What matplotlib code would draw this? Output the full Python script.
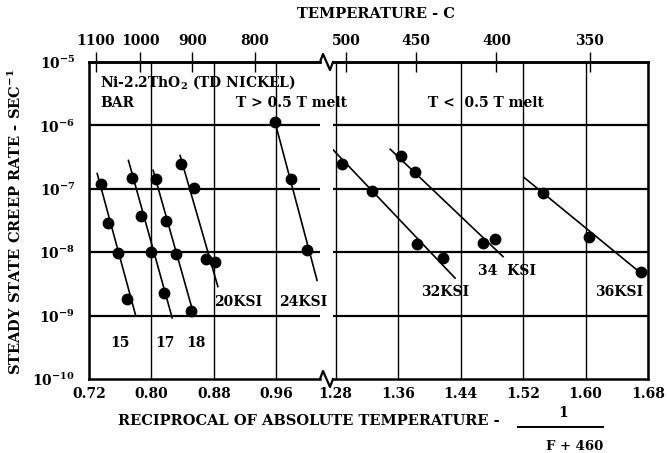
import matplotlib
matplotlib.use("Agg")
import matplotlib.pyplot as plt
from matplotlib.lines import Line2D

plt.rcParams['font.family'] = ['DejaVu Serif']
plt.rcParams['font.weight'] = 'bold'
plt.rcParams['mathtext.fontset'] = 'dejavuserif'
plt.rcParams['mathtext.default'] = 'bf'

# creep data, x = 1000/T, rate in 1/sec
ksi15_x = [0.735, 0.744, 0.757, 0.769]
ksi15_rate = [1.2e-7, 2.9e-8, 9.8e-9, 1.8e-9]
ksi15_fit_x = [0.7305, 0.780]
ksi15_fit_rate = [1.74e-7, 9.8e-10]

ksi17_x = [0.775, 0.786, 0.799, 0.816]
ksi17_rate = [1.5e-7, 3.7e-8, 1.0e-8, 2.26e-9]
ksi17_fit_x = [0.7705, 0.8265]
ksi17_fit_rate = [2.8e-7, 9.2e-10]

ksi18_x = [0.806, 0.819, 0.832, 0.851]
ksi18_rate = [1.42e-7, 3.05e-8, 9.3e-9, 1.2e-9]
ksi18_fit_x = [0.8021, 0.8547]
ksi18_fit_rate = [1.96e-7, 9.8e-10]

ksi20_x = [0.838, 0.855, 0.870, 0.881]
ksi20_rate = [2.43e-7, 1.02e-7, 7.7e-9, 7.1e-9]
ksi20_fit_x = [0.8366, 0.885]
ksi20_fit_rate = [3.36e-7, 2.87e-9]

ksi24_x = [0.958, 0.979, 0.999]
ksi24_rate = [1.15e-6, 1.42e-7, 1.07e-8]
ksi24_fit_x = [0.958, 1.012]
ksi24_fit_rate = [1.15e-6, 3.6e-9]

ksi32_x = [1.288, 1.326, 1.384, 1.418]
ksi32_rate = [2.45e-7, 9.4e-8, 1.37e-8, 8.0e-9]
ksi32_fit_x = [1.277, 1.433]
ksi32_fit_rate = [4.1e-7, 3.9e-9]

ksi34_x = [1.364, 1.382, 1.469, 1.484]
ksi34_rate = [3.24e-7, 1.86e-7, 1.42e-8, 1.61e-8]
ksi34_fit_x = [1.350, 1.4945]
ksi34_fit_rate = [4.2e-7, 8.5e-9]

ksi36_x = [1.545, 1.604, 1.6705]
ksi36_rate = [8.5e-8, 1.75e-8, 4.8e-9]
ksi36_fit_x = [1.521, 1.6735]
ksi36_fit_rate = [1.52e-7, 4.4e-9]

left_series = [(ksi15_x, ksi15_rate, ksi15_fit_x, ksi15_fit_rate),
               (ksi17_x, ksi17_rate, ksi17_fit_x, ksi17_fit_rate),
               (ksi18_x, ksi18_rate, ksi18_fit_x, ksi18_fit_rate),
               (ksi20_x, ksi20_rate, ksi20_fit_x, ksi20_fit_rate),
               (ksi24_x, ksi24_rate, ksi24_fit_x, ksi24_fit_rate)]
right_series = [(ksi32_x, ksi32_rate, ksi32_fit_x, ksi32_fit_rate),
                (ksi34_x, ksi34_rate, ksi34_fit_x, ksi34_fit_rate),
                (ksi36_x, ksi36_rate, ksi36_fit_x, ksi36_fit_rate)]

left_ticks = [0.72, 0.80, 0.88, 0.96]
right_ticks = [1.28, 1.36, 1.44, 1.52, 1.60, 1.68]
left_temps_c = [1100, 1000, 900, 800]
right_temps_c = [500, 450, 400, 350]
rate_ticks = [1e-10, 1e-9, 1e-8, 1e-7, 1e-6, 1e-5]
rate_labels = [r'$10^{-10}$', r'$10^{-9}$', r'$10^{-8}$', r'$10^{-7}$', r'$10^{-6}$', r'$10^{-5}$']

W, H = 668, 453
fig = plt.figure(figsize=(W / 100, H / 100), dpi=100)

def px_box(x0, x1, ytop, ybot):
    return [x0 / W, 1 - ybot / H, (x1 - x0) / W, (ybot - ytop) / H]

top_px, bot_px = 62, 379
axL = fig.add_axes(px_box(89, 320, top_px, bot_px))
axR = fig.add_axes(px_box(333, 648, top_px, bot_px), sharey=axL)
axL.set_xlim(0.72, 0.72 + (320 - 89) / 781.0)
axR.set_xlim(1.68 - (648 - 333) / 781.0, 1.68)

def k2c(x):
    return 1000.0 / x - 273.0

def c2k(t):
    return 1000.0 / (t + 273.0)

for ax, ticks, temps, series in [(axL, left_ticks, left_temps_c, left_series),
                                  (axR, right_ticks, right_temps_c, right_series)]:
    ax.patch.set_visible(False)
    ax.set_yscale('log')
    ax.set_ylim(1e-10, 1e-5)
    ax.set_xticks(ticks)
    ax.set_xticklabels(['%.2f' % t for t in ticks], fontsize=10)
    ax.tick_params(axis='x', length=0, pad=6)
    ax.yaxis.set_minor_locator(matplotlib.ticker.NullLocator())
    for t in ticks:
        ax.axvline(t, color='black', lw=1.0, zorder=1)
    for r in rate_ticks[1:-1]:
        ax.axhline(r, color='black', lw=1.6, zorder=1)
    for sp in ax.spines.values():
        sp.set_linewidth(1.8)
    for px, rate, fx, frate in series:
        ax.plot(fx, frate, color='black', lw=1.2, zorder=2)
        ax.plot(px, rate, 'o', color='black', ms=7.5, zorder=3)
    sec = ax.secondary_xaxis('top', functions=(k2c, c2k))
    sec.set_xticks(temps)
    sec.set_xticklabels([str(t) for t in temps], fontsize=10)
    sec.tick_params(direction='inout', length=14, width=1.0, pad=3)
    sec.spines['top'].set_linewidth(1.8)

axL.spines['right'].set_visible(False)
axR.spines['left'].set_visible(False)
axL.set_yticks(rate_ticks)
axL.set_yticklabels(rate_labels, fontsize=10)
axL.tick_params(axis='y', length=0, pad=10)
axR.tick_params(axis='y', left=False, labelleft=False, length=0)

# break marks on top and bottom
for y in (top_px, bot_px):
    zx = [320, 323, 330, 333]
    zy = [y, y - 8, y + 8, y]
    fig.add_artist(Line2D([v / W for v in zx], [1 - v / H for v in zy],
                          color='black', lw=1.6, transform=fig.transFigure))

# labels on the fitted lines
axL.text(0.760, 3.7e-10, '15', ha='center', va='center', fontsize=10)
axL.text(0.817, 3.7e-10, '17', ha='center', va='center', fontsize=10)
axL.text(0.857, 3.7e-10, '18', ha='center', va='center', fontsize=10)
axL.text(0.911, 1.64e-9, '20KSI', ha='center', va='center', fontsize=10)
axL.text(0.994, 1.64e-9, '24KSI', ha='center', va='center', fontsize=10)
axR.text(1.420, 2.35e-9, '32KSI', ha='center', va='center', fontsize=10)
axR.text(1.500, 5.06e-9, '34  KSI', ha='center', va='center', fontsize=10)
axR.text(1.643, 2.35e-9, '36KSI', ha='center', va='center', fontsize=10)

axL.text(0.047, 0.937, r'Ni-2.2ThO$_2$ (TD NICKEL)', transform=axL.transAxes,
         fontsize=10, va='center', clip_on=False)
axL.text(0.047, 0.872, 'BAR', transform=axL.transAxes, fontsize=10, va='center')
axL.text(0.635, 0.872, 'T > 0.5 T melt', transform=axL.transAxes, fontsize=10,
         va='center', clip_on=False, zorder=5)
axR.text(0.30, 0.872, 'T <  0.5 T melt', transform=axR.transAxes, fontsize=10,
         va='center')

fig.text(15 / W, 1 - 222 / H, r'STEADY STATE CREEP RATE - SEC$^{-1}$', rotation=90,
         ha='center', va='center', fontsize=10.5)
fig.text(376 / W, 1 - 14 / H, 'TEMPERATURE - C', ha='center', va='center', fontsize=10.5)

# x label with the 1/(F+460) fraction
fig.text(118 / W, 1 - 421 / H, 'RECIPROCAL OF ABSOLUTE TEMPERATURE -', ha='left',
         va='center', fontsize=10.5)
fig.add_artist(Line2D([518 / W, 603 / W], [1 - 427 / H, 1 - 427 / H], color='black',
                      lw=1.4, transform=fig.transFigure))
fig.text(563 / W, 1 - 413 / H, '1', ha='center', va='center', fontsize=10)
fig.text(575 / W, 1 - 446 / H, 'F + 460', ha='center', va='center', fontsize=9.5)

fig.savefig('out.png', dpi=100)
